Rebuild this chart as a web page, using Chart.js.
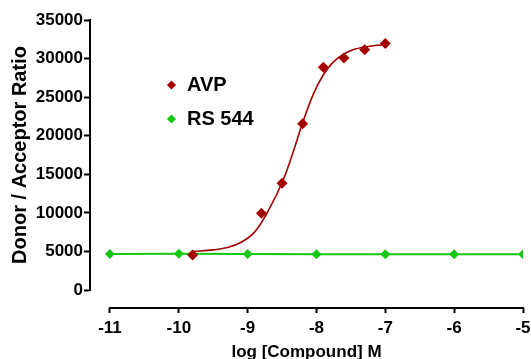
<!DOCTYPE html>
<html><head><meta charset="utf-8">
<script src="https://cdn.jsdelivr.net/npm/chart.js@4/dist/chart.umd.min.js"></script>
<style>html,body{margin:0;padding:0;background:#fff;overflow:hidden}</style>
</head><body>
<canvas id="c" width="531" height="359"></canvas>
<script>
// ---- data ----
const xTickValues = [-11, -10, -9, -8, -7, -6, -5];
const yTickValues = [0, 5000, 10000, 15000, 20000, 25000, 30000, 35000];

const avpLogConc = [-9.8, -8.8, -8.5, -8.2, -7.9, -7.6, -7.3, -7.0];
const avpRatio   = [4540, 9940, 13850, 21550, 28870, 30080, 31150, 31950];

const avpFitLogConc = [-9.8, -9.5, -9.3, -9.1, -8.9, -8.7, -8.5, -8.35, -8.2, -8.05, -7.9, -7.75, -7.6, -7.45, -7.3, -7.15, -7.0];
const avpFitRatio   = [4980, 5200, 5500, 6150, 7500, 10300, 13900, 17600, 21700, 25300, 27900, 29600, 30600, 31200, 31500, 31700, 31800];

const rsLogConc = [-11, -10, -9, -8, -7, -6, -5];
const rsRatio   = [4680, 4690, 4660, 4650, 4640, 4620, 4640];

const seriesNames = ['AVP', 'RS 544'];
const xAxisTitle = 'log [Compound] M';
const yAxisTitle = 'Donor / Acceptor Ratio';

// ---- styling ----
const RED = '#a30000';
const GREEN = '#14c814';
const FONT = 'Liberation Sans, Arial, Helvetica, sans-serif';

const pts = (xs, ys) => xs.map((x, i) => ({ x: x, y: ys[i] }));

const offsetXAxisPlugin = {
  id: 'offsetXAxis',
  afterDraw(chart) {
    const xs = chart.scales.x;
    const ctx = chart.ctx;
    const y = chart.chartArea.bottom + 18;
    ctx.save();
    ctx.strokeStyle = '#000';
    ctx.lineWidth = 2;
    ctx.beginPath();
    ctx.moveTo(xs.getPixelForValue(xTickValues[0]) - 1, y);
    ctx.lineTo(xs.getPixelForValue(xTickValues[xTickValues.length - 1]) + 1, y);
    ctx.stroke();
    ctx.restore();
  }
};

const innerLegendPlugin = {
  id: 'innerLegend',
  afterDraw(chart) {
    const ctx = chart.ctx;
    const ca = chart.chartArea;
    const items = [
      { name: seriesNames[0], color: RED },
      { name: seriesNames[1], color: GREEN }
    ];
    ctx.save();
    items.forEach((it, i) => {
      const cy = ca.top + 65 + i * 34;
      const cx = ca.left + 81.5;
      ctx.fillStyle = it.color;
      ctx.beginPath();
      ctx.moveTo(cx, cy - 4.6); ctx.lineTo(cx + 4.6, cy); ctx.lineTo(cx, cy + 4.6); ctx.lineTo(cx - 4.6, cy); ctx.closePath();
      ctx.fill();
      ctx.fillStyle = '#000';
      ctx.font = 'bold 20px ' + FONT;
      ctx.textBaseline = 'middle';
      ctx.textAlign = 'left';
      ctx.fillText(it.name, ca.left + 97, cy + 0.5);
    });
    ctx.restore();
  }
};

new Chart(document.getElementById('c').getContext('2d'), {
  type: 'line',
  data: {
    datasets: [
      {
        label: seriesNames[1],
        data: pts(rsLogConc, rsRatio),
        borderColor: GREEN, backgroundColor: GREEN,
        borderWidth: 2, tension: 0,
        pointStyle: 'rectRot', pointRadius: 5, pointBorderWidth: 0,
        order: 3
      },
      {
        label: seriesNames[0] + ' fit',
        data: pts(avpFitLogConc, avpFitRatio),
        borderColor: RED, borderWidth: 1.6,
        pointRadius: 0, tension: 0.4,
        order: 2
      },
      {
        label: seriesNames[0],
        data: pts(avpLogConc, avpRatio),
        showLine: false,
        borderColor: RED, backgroundColor: RED,
        pointStyle: 'rectRot', pointRadius: 5.5, pointBorderWidth: 0,
        order: 1
      }
    ]
  },
  options: {
    responsive: false, animation: false, devicePixelRatio: 1,
    layout: { padding: { top: 20, right: 8, left: 0, bottom: 0 } },
    plugins: { legend: { display: false }, tooltip: { enabled: false } },
    scales: {
      x: {
        type: 'linear', min: -11.29, max: -5,
        afterBuildTicks: s => { s.ticks = xTickValues.map(v => ({ value: v })); },
        afterFit: s => { s.height = 69; s.paddingLeft = 0; s.paddingRight = 0; },
        border: { display: false },
        grid: { drawOnChartArea: false, drawTicks: true, tickLength: 23, tickWidth: 2, color: '#000', tickBorderDash: [0, 18, 5, 100] },
        ticks: { color: '#000', font: { family: FONT, size: 17, weight: 'bold' }, padding: 5, maxRotation: 0, autoSkip: false, callback: v => String(v) },
        title: { display: true, text: xAxisTitle, color: '#000', font: { family: FONT, size: 17, weight: 'bold', lineHeight: 1 }, padding: { top: 0, bottom: -2 } }
      },
      y: {
        min: 0, max: 35000,
        afterBuildTicks: s => { s.ticks = yTickValues.map(v => ({ value: v })); },
        afterFit: s => { s.width = 90; },
        border: { display: true, color: '#000', width: 2 },
        grid: { drawOnChartArea: false, drawTicks: true, tickLength: 6, tickWidth: 2, color: '#000' },
        ticks: { color: '#000', font: { family: FONT, size: 17, weight: 'bold' }, padding: 1, callback: v => String(v) },
        title: { display: true, text: yAxisTitle, color: '#000', font: { family: FONT, size: 20, weight: 'bold', lineHeight: 1 }, padding: { top: 10, bottom: 0 } }
      }
    }
  },
  plugins: [offsetXAxisPlugin, innerLegendPlugin]
});
</script>
</body></html>
